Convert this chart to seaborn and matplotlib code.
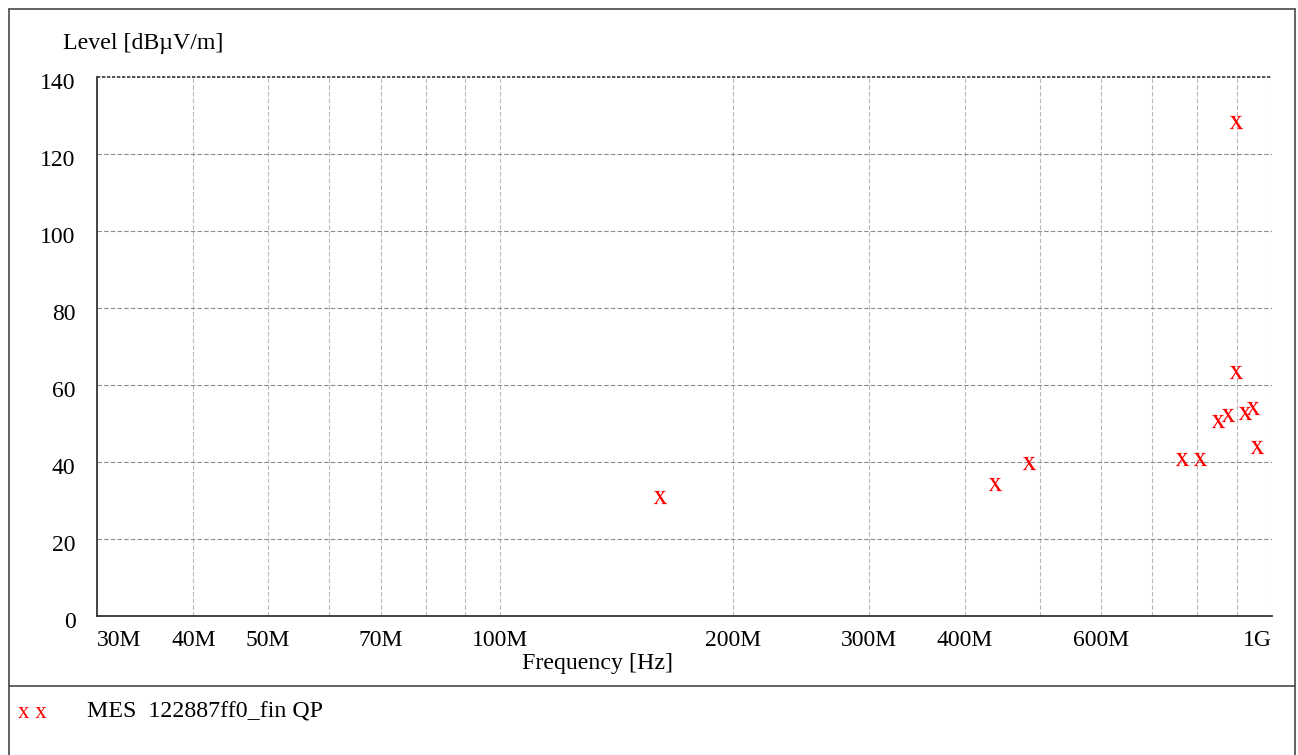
import numpy as np
import pandas as pd
import matplotlib
matplotlib.use("Agg")
import matplotlib.pyplot as plt
import matplotlib.transforms as mtransforms
from matplotlib.lines import Line2D
from matplotlib.ticker import FixedLocator, NullLocator
import seaborn as sns

# measured QP levels (frequency in MHz, level in dBuV/m)
freq_mhz = [161, 438, 484, 764, 806, 851, 877, 898, 898, 922, 944, 956]
level_db = [30.9, 34.3, 39.7, 40.8, 40.8, 50.6, 52.2, 128.3, 63.4, 52.7, 54.0, 43.9]

tick_mhz = [30, 40, 50, 70, 100, 200, 300, 400, 600, 1000]
tick_labels = ["30M", "40M", "50M", "70M", "100M", "200M", "300M", "400M", "600M", "1G"]
grid_mhz = [40, 50, 60, 70, 80, 90, 100, 200, 300, 400, 500, 600, 700, 800, 900]
y_ticks = [0, 20, 40, 60, 80, 100, 120, 140]

df = pd.DataFrame({"freq": np.array(freq_mhz) * 1e6, "level": level_db})

sns.set_theme(style="white")
plt.rcParams["font.family"] = ["Liberation Serif", "DejaVu Serif"]
plt.rcParams["mathtext.fontset"] = "stix"
plt.rcParams["text.color"] = "black"

W, H = 1298, 755
fig = plt.figure(figsize=(W / 100, H / 100), dpi=100)
ax = fig.add_axes([97 / W, 1 - 616 / H, (1272 - 97) / W, (616 - 77) / H])

sns.scatterplot(
    data=df, x="freq", y="level", marker=r"$\mathrm{x}$", s=95,
    color="red", linewidth=0, ax=ax, zorder=5,
)

ax.set_xscale("log")
ax.set_xlim(30e6, 1e9)
ax.set_ylim(0, 140)

# grid
for g in grid_mhz:
    ax.axvline(g * 1e6, color="#b8b8b8", lw=0.8, ls=(0, (4, 2)), zorder=1)
ax.axvline(1e9, color="#b8b8b8", lw=0.8, ls=(0, (4, 2)), zorder=1)
for yv in y_ticks[1:-1]:
    ax.axhline(yv, color="#8c8c8c", lw=0.8, ls=(0, (4, 2)), zorder=1)
ax.axhline(140, color="#333333", lw=1.2, ls=(0, (2, 1)), zorder=2, clip_on=False)

ax.xaxis.set_major_locator(FixedLocator([t * 1e6 for t in tick_mhz]))
ax.xaxis.set_minor_locator(NullLocator())
ax.set_xticklabels(tick_labels)
ax.set_yticks(y_ticks)
ax.tick_params(axis="both", length=0, labelsize=17, colors="black")
ax.tick_params(axis="x", pad=10)
ax.tick_params(axis="y", pad=15.5)
xl = ax.get_xticklabels()
xl[0].set_horizontalalignment("left")
xl[-1].set_horizontalalignment("right")
shift = mtransforms.ScaledTranslation(0, -4 / 100, fig.dpi_scale_trans)
for lab in ax.get_yticklabels():
    lab.set_transform(lab.get_transform() + shift)

for side in ["top", "right"]:
    ax.spines[side].set_visible(False)
for side in ["left", "bottom"]:
    ax.spines[side].set_color("#333333")
    ax.spines[side].set_linewidth(1.3)

ax.set_xlabel("")
ax.set_ylabel("")

fig.text(63 / W, 1 - 44 / H, "Level [dBµV/m]", fontsize=17.2, ha="left", va="center")
fig.text(598 / W, 1 - 664 / H, "Frequency [Hz]", fontsize=17.2, ha="center", va="center")

# outer frame and legend box
frame_kw = dict(color="#555555", lw=1.3, transform=fig.transFigure)
fig.add_artist(Line2D([9 / W, 1295 / W], [1 - 9 / H, 1 - 9 / H], **frame_kw))
fig.add_artist(Line2D([9 / W, 9 / W], [1 - 9 / H, 0], **frame_kw))
fig.add_artist(Line2D([1295 / W, 1295 / W], [1 - 9 / H, 0], **frame_kw))
fig.add_artist(Line2D([9 / W, 1295 / W], [1 - 686 / H, 1 - 686 / H], **frame_kw))

fig.text(18 / W, 1 - 713 / H, "x x", color="red", fontsize=16.5, ha="left", va="center")
fig.text(87 / W, 1 - 712 / H, "MES  122887ff0_fin QP", fontsize=17.2, ha="left", va="center")

fig.savefig("out.png", dpi=100)
